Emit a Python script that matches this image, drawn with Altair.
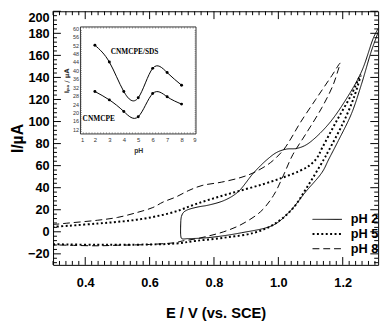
import altair as alt
import pandas as pd
import numpy as np

# ---------------- main CV data (E / V vs SCE, I / uA) ----------------
ph2_E = [0.697, 0.699, 0.705, 0.717, 0.75, 0.783, 0.833, 0.874, 0.924, 0.965, 0.995, 1.025, 1.055,
         1.081, 1.106, 1.157, 1.207, 1.258, 1.298, 1.315,
         1.288, 1.258, 1.227, 1.187, 1.157, 1.136, 1.085, 1.036, 0.985, 0.885, 0.782, 0.72, 0.700,
         0.697, 0.697]
ph2_I = [10, 14, 17.5, 19.8, 22.5, 24.2, 28.6, 36, 53.7, 65.5, 72, 75, 75.5,
         78, 83, 98, 118.6, 145, 177.6, 186,
         163, 133.6, 107, 83, 66, 54, 36.3, 18.6, 6.2, -0.9, -5.3, -6.2, -6.2,
         -4, 10]

ph5_E = [0.298, 0.35, 0.439, 0.5, 0.561, 0.62, 0.682, 0.742, 0.813, 0.884, 0.955, 1.015, 1.066,
         1.096, 1.12, 1.136, 1.18, 1.227, 1.255,
         1.235, 1.2, 1.157, 1.14, 1.086, 1.045, 0.985, 0.924, 0.833, 0.742, 0.682, 0.6, 0.5,
         0.439, 0.35, 0.298]
ph5_I = [4.5, 5.5, 7.5, 9, 11, 14, 18.5, 25, 31.6, 37.5, 43.4, 49.3, 55.2,
         60, 67, 76, 100, 124.5, 142,
         122, 98, 74, 65, 39, 21.2, 6.5, -0.9, -5.3, -8.3, -10.6, -11.5, -11.8,
         -11.8, -11.5, -11.2]

ph8_E = [0.298, 0.35, 0.439, 0.5, 0.561, 0.61, 0.642, 0.682, 0.722, 0.763, 0.823, 0.884, 0.924,
         0.975, 1.015, 1.04, 1.066, 1.116, 1.167, 1.192,
         1.185, 1.17, 1.136, 1.086, 1.045, 1.015, 0.985, 0.945, 0.884, 0.83, 0.783, 0.742, 0.702,
         0.682, 0.6, 0.5, 0.439, 0.35, 0.298]
ph8_I = [6.5, 8, 10.5, 13, 17.5, 22, 27, 31.6, 37.5, 42, 45, 49.3, 53.7,
         62.6, 74, 85, 98, 120, 142, 153,
         146, 133, 113, 89, 70, 50.7, 33, 18.3, 6.5, 0, -3.8, -6.5, -8.3,
         -9.7, -11.5, -12.2, -12.7, -12.2, -11.8]

series_names = ["pH 2", "pH 5", "pH 8"]

# ---------------- inset data ----------------
inset_pH = [2, 3, 4, 5, 6, 7, 8]
ipa_sds = [52, 44, 30, 27, 41, 39, 33]
ipa_cnm = [30, 26, 20.5, 18, 29, 27.5, 24]

# tick values
x_major = [0.4, 0.6, 0.8, 1.0, 1.2]
y_major = list(range(-20, 201, 20))

W, H = 332, 259
FONT = "Liberation Sans"

rows = []
for name, E, I in zip(series_names, [ph2_E, ph5_E, ph8_E], [ph2_I, ph5_I, ph8_I]):
    for k, (e, i) in enumerate(zip(E, I)):
        rows.append({"series": name, "ord": k, "E": e, "I": i})
cv = pd.DataFrame(rows)

xs = alt.Scale(domain=[0.3, 1.31], nice=False, zero=False)
ys = alt.Scale(domain=[-30, 200], nice=False, zero=False)

x_axis = alt.Axis(values=x_major, format=".1f", ticks=False, domain=False, grid=False,
                  labelFont=FONT, labelFontSize=13, labelFontWeight="bold", labelColor="black",
                  labelPadding=12, title="E / V (vs. SCE)", titleFont=FONT, titleFontSize=15,
                  titleFontWeight="bold", titleColor="black", titlePadding=17)
y_axis = alt.Axis(values=y_major, ticks=False, domain=False, grid=False, labelFont=FONT,
                  labelFontSize=13, labelFontWeight="bold", labelColor="black", labelPadding=4,
                  labelFlush=True, labelFlushOffset=0,
                  title="I/µA", titleFont=FONT, titleFontSize=16, titleFontWeight="bold",
                  titleColor="black", titlePadding=2)

leg = alt.Legend(orient="none", legendX=264, legendY=205, symbolType="stroke",
                 symbolSize=900, symbolStrokeColor="black", title=None,
                 labelFont=FONT, labelFontSize=13, labelFontWeight="bold",
                 labelColor="black", labelOffset=8, rowPadding=0, clipHeight=15, padding=0)

lines = alt.Chart(cv).mark_line(color="black", clip=True, interpolate="catmull-rom").encode(
    x=alt.X("E:Q", scale=xs, axis=x_axis),
    y=alt.Y("I:Q", scale=ys, axis=y_axis),
    order="ord:Q",
    strokeDash=alt.StrokeDash("series:N", scale=alt.Scale(domain=series_names,
                                                          range=[[1, 0], [2, 2.5], [7, 4]]), legend=leg),
    strokeWidth=alt.StrokeWidth("series:N", scale=alt.Scale(type="ordinal", domain=series_names,
                                                            range=[1, 2, 1]), legend=leg),
)

def xt(vals, y0, y1):
    return alt.Chart(pd.DataFrame({"E": vals})).mark_rule(color="black", strokeWidth=1).encode(
        x=alt.X("E:Q", scale=xs, axis=x_axis), y=alt.value(y0), y2=alt.value(y1))

def yt(vals, x0, x1):
    return alt.Chart(pd.DataFrame({"I": vals})).mark_rule(color="black", strokeWidth=1).encode(
        y=alt.Y("I:Q", scale=ys, axis=y_axis), x=alt.value(x0), x2=alt.value(x1))

x_minor = [round(v, 2) for v in np.arange(0.30, 1.311, 0.02) if round(v, 2) not in x_major]
y_minor = [v for v in range(-28, 201, 4) if v not in y_major]

main = alt.layer(
    lines,
    xt(x_major, H, H - 8), xt(x_minor, H, H - 4),
    xt(x_major, 0, 8), xt(x_minor, 0, 4),
    yt(y_major, 0, 8), yt(y_minor, 0, 4),
    yt(y_major, W, W - 8), yt(y_minor, W, W - 4),
)

# ---------------- inset ----------------
ins = pd.DataFrame({
    "pH": inset_pH * 2,
    "Ipa": ipa_sds + ipa_cnm,
    "grp": ["CNMCPE/SDS"] * 7 + ["CNMCPE"] * 7,
})
ixs = alt.Scale(domain=[1, 9], range=[28, 146], nice=False, zero=False)
iys = alt.Scale(domain=[9.8, 60.7], range=[125.3, 16], nice=False, zero=False)

ix_axis = alt.Axis(orient="bottom", offset=-133.7, values=list(range(1, 10)), ticks=False,
                   domain=False, grid=False, labelFont=FONT, labelFontSize=6, labelColor="#333",
                   labelPadding=3, title="pH", titleFont=FONT, titleFontSize=7,
                   titleFontWeight="bold", titleColor="#333", titlePadding=4)
iy_axis = alt.Axis(orient="left", offset=-28, values=list(range(12, 61, 4)), ticks=False,
                   domain=False, grid=False, labelFont=FONT, labelFontSize=5.5, labelColor="#333",
                   labelPadding=2, title="Iₚₐ / µA", titleFont="DejaVu Sans", titleFontSize=6.5,
                   titleFontWeight="bold", titleColor="#333", titlePadding=3)

ins_box = pd.DataFrame({"pH": [1], "pH2": [9], "Ipa": [9.8], "Ipa2": [60.7]})
iframe = alt.Chart(ins_box).mark_rect(fill="white", stroke="black", strokeWidth=0.8).encode(
    x=alt.X("pH:Q", scale=ixs, axis=ix_axis), x2="pH2:Q",
    y=alt.Y("Ipa:Q", scale=iys, axis=iy_axis), y2="Ipa2:Q",
)

ilines = alt.Chart(ins).mark_line(color="black", strokeWidth=1, interpolate="natural").encode(
    x=alt.X("pH:Q", scale=ixs, axis=ix_axis), y=alt.Y("Ipa:Q", scale=iys, axis=iy_axis),
    detail="grp:N")
ipts = alt.Chart(ins).mark_circle(color="black", size=9, opacity=1).encode(
    x=alt.X("pH:Q", scale=ixs, axis=ix_axis), y=alt.Y("Ipa:Q", scale=iys, axis=iy_axis))

ann = pd.DataFrame({"pH": [3.1, 1.15], "Ipa": [48.6, 16.7], "t": ["CNMCPE/SDS", "CNMCPE"]})
itext = alt.Chart(ann).mark_text(font="Liberation Serif", fontSize=7.5, fontWeight="bold",
                                 color="black", align="left").encode(
    x=alt.X("pH:Q", scale=ixs, axis=ix_axis), y=alt.Y("Ipa:Q", scale=iys, axis=iy_axis), text="t:N")

def ixt(vals, y0, y1):
    d = pd.DataFrame({"pH": vals, "Ipa": [y0] * len(vals), "Ipa2": [y1] * len(vals)})
    return alt.Chart(d).mark_rule(color="#444", strokeWidth=0.5).encode(
        x=alt.X("pH:Q", scale=ixs, axis=ix_axis), y=alt.Y("Ipa:Q", scale=iys, axis=iy_axis), y2="Ipa2:Q")

def iyt(vals, x0, x1):
    d = pd.DataFrame({"Ipa": vals, "pH": [x0] * len(vals), "pH2": [x1] * len(vals)})
    return alt.Chart(d).mark_rule(color="#444", strokeWidth=0.5).encode(
        y=alt.Y("Ipa:Q", scale=iys, axis=iy_axis), x=alt.X("pH:Q", scale=ixs, axis=ix_axis), x2="pH2:Q")

ix_minor = [round(v, 2) for v in np.arange(1.2, 8.9, 0.2)]
iy_minor = list(range(11, 60, 1))

inset = alt.layer(
    iframe,
    ixt(ix_minor, 9.8, 10.6), ixt(ix_minor, 60.7, 59.9),
    iyt(iy_minor, 1, 1.1), iyt(iy_minor, 9, 8.9),
    ilines, ipts, itext,
)

chart = alt.layer(main, inset).resolve_scale(x="independent", y="independent").properties(
    width=W, height=H, autosize=alt.AutoSizeParams(type="none"),
    padding={"left": 46, "top": 0, "right": 6, "bottom": 55},
).configure_view(stroke="black", strokeWidth=1)

chart.save("out.html", embed_options={"renderer": "svg", "actions": False})
